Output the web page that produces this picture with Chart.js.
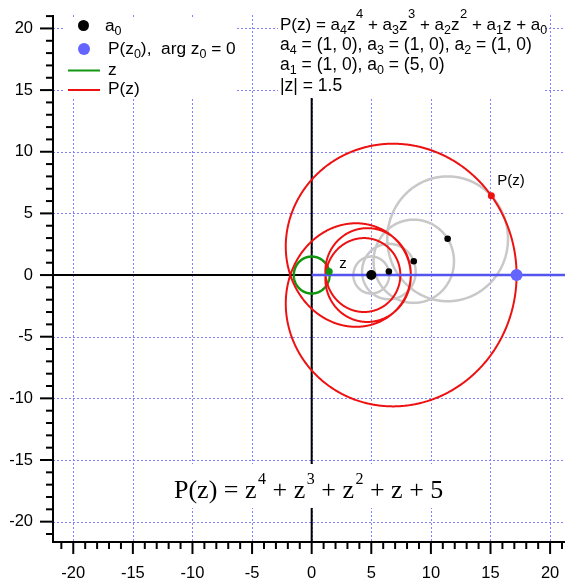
<!DOCTYPE html>
<html><head><meta charset="utf-8">
<script src="https://cdn.jsdelivr.net/npm/chart.js@4/dist/chart.umd.min.js"></script>
<style>html,body{margin:0;padding:0;background:#fff;}#wrap{width:565px;height:583px;}</style>
</head><body><div id="wrap"><canvas id="c" width="565" height="583"></canvas></div>
<script>
// ---- data ----
const coefficients = [[5, 0], [1, 0], [1, 0], [1, 0], [1, 0]]; // a0, a1, a2, a3, a4 as (re, im)
const modulusZ = 1.5;          // |z|
const argZ = 0.19;             // arg of the marked z (rad)
const argZ0 = 0;               // arg z0
const xTickValues = [-20, -15, -10, -5, 0, 5, 10, 15, 20];
const yTickValues = [-20, -15, -10, -5, 0, 5, 10, 15, 20];
const minorTickValues = [-21,-20,-19,-18,-17,-16,-15,-14,-13,-12,-11,-10,-9,-8,-7,-6,-5,-4,-3,-2,-1,0,1,2,3,4,5,6,7,8,9,10,11,12,13,14,15,16,17,18,19,20,21];

// ---- derived geometry ----
function term(k, theta) {
  const m = Math.pow(modulusZ, k), ang = k * theta;
  const zr = m * Math.cos(ang), zi = m * Math.sin(ang);
  const [ar, ai] = coefficients[k];
  return [ar * zr - ai * zi, ar * zi + ai * zr];
}
function partialSums(theta) {
  const out = []; let re = 0, im = 0;
  for (let k = 0; k < coefficients.length; k++) { const [a, b] = term(k, theta); re += a; im += b; out.push({x: re, y: im}); }
  return out;
}
function circlePts(cx, cy, r, n) {
  const p = [];
  for (let i = 0; i <= n; i++) { const t = 2 * Math.PI * i / n; p.push({x: cx + r * Math.cos(t), y: cy + r * Math.sin(t)}); }
  return p;
}
const curvePts = [];
for (let i = 0; i <= 1440; i++) { const s = partialSums(2 * Math.PI * i / 1440); curvePts.push(s[s.length - 1]); }
const sums = partialSums(argZ);
const sums0 = partialSums(argZ0);
const pz = sums[sums.length - 1];
const pz0 = sums0[sums0.length - 1];
const zPoint = {x: modulusZ * Math.cos(argZ), y: modulusZ * Math.sin(argZ)};
const grayCircles = [];
for (let k = 1; k < coefficients.length; k++) {
  const mag = Math.hypot(coefficients[k][0], coefficients[k][1]) * Math.pow(modulusZ, k);
  grayCircles.push(circlePts(sums[k - 1].x, sums[k - 1].y, mag, 240));
}

const SANS = '"Liberation Sans", Arial, Helvetica, sans-serif';
const SERIF = '"Liberation Serif", "Times New Roman", serif';
const RED = '#ee1111', GREEN = '#129612', GRAY = '#c8c8c8', BLUE_LINE = '#5454ee', BLUE_DOT = '#6464ff', GRID = '#8282ff';

function rich(ctx, x, y, parts, family) {
  for (const p of parts) {
    ctx.font = p.s + 'px ' + family;
    const dx = p.dx || 0;
    ctx.fillText(p.t, x + dx, y + (p.dy || 0));
    x += dx + ctx.measureText(p.t).width;
  }
}
const sub = t => ({t, s: 12.5, dy: 4});
const sup = t => ({t, s: 13, dy: -12, dx: 0.5});
const n = t => ({t, s: 17});
const m = t => ({t, s: 17.5});
const lg = t => ({t, s: 17.3});

const decor = {
  id: 'decor',
  beforeDatasetsDraw(chart) {
    const {ctx, chartArea: a, scales: {x, y}} = chart;
    const L = (x1, y1, x2, y2) => { ctx.beginPath(); ctx.moveTo(x1, y1); ctx.lineTo(x2, y2); ctx.stroke(); };
    ctx.save();
    ctx.strokeStyle = GRID; ctx.lineWidth = 1; ctx.setLineDash([2, 2]);
    for (const v of xTickValues) { const p = Math.round(x.getPixelForValue(v)) + 0.5; L(p, a.top, p, a.bottom); }
    for (const v of yTickValues) { const p = Math.round(y.getPixelForValue(v)) + 0.5; L(a.left, p, a.right, p); }
    ctx.setLineDash([]);
    ctx.strokeStyle = '#000'; ctx.lineWidth = 2;
    const x0 = x.getPixelForValue(0), y0 = y.getPixelForValue(0);
    L(x0, a.top, x0, a.bottom); L(a.left, y0, a.right, y0);
    L(a.left, a.top, a.left, a.bottom + 1); L(a.left - 1, a.bottom, a.right, a.bottom);
    for (const v of minorTickValues) {
      const px = x.getPixelForValue(v), major = v % 5 === 0;
      L(px, a.bottom, px, a.bottom + (major ? 12 : 7));
      const py = y.getPixelForValue(v);
      L(a.left, py, a.left - (major ? 13 : 7), py);
    }
    ctx.restore();
  },
  afterDatasetsDraw(chart) {
    const {ctx, scales: {x, y}} = chart;
    ctx.save();
    ctx.fillStyle = '#fff';
    ctx.fillRect(63, 17, 174, 82);
    ctx.fillRect(278, 15, 266, 83);
    ctx.fillRect(150, 464, 310, 44);
    ctx.fillStyle = '#000'; ctx.textBaseline = 'alphabetic'; ctx.textAlign = 'left';
    // legend
    ctx.beginPath(); ctx.arc(83.5, 25.5, 5.5, 0, 2 * Math.PI); ctx.fill();
    ctx.fillStyle = BLUE_DOT; ctx.beginPath(); ctx.arc(84, 49, 6, 0, 2 * Math.PI); ctx.fill();
    ctx.lineWidth = 2;
    ctx.strokeStyle = GREEN; ctx.beginPath(); ctx.moveTo(68, 70.5); ctx.lineTo(100, 70.5); ctx.stroke();
    ctx.strokeStyle = RED; ctx.beginPath(); ctx.moveTo(68, 90); ctx.lineTo(100, 90); ctx.stroke();
    ctx.fillStyle = '#000';
    rich(ctx, 105, 31, [lg('a'), sub('0')], SANS);
    rich(ctx, 108, 54, [lg('P(z'), sub('0'), lg('),  arg z'), sub('0'), lg(' = 0')], SANS);
    rich(ctx, 108, 75, [lg('z')], SANS);
    rich(ctx, 108, 94, [lg('P(z)')], SANS);
    // formula box
    rich(ctx, 280, 30, [n('P(z) = a'), sub('4'), n('z'), sup('4'), n(' + a'), sub('3'), n('z'), sup('3'), n(' + a'), sub('2'), n('z'), sup('2'), n(' + a'), sub('1'), n('z + a'), sub('0')], SANS);
    rich(ctx, 280, 50, [m('a'), sub('4'), m(' = (1, 0), a'), sub('3'), m(' = (1, 0), a'), sub('2'), m(' = (1, 0)')], SANS);
    rich(ctx, 280, 70, [m('a'), sub('1'), m(' = (1, 0), a'), sub('0'), m(' = (5, 0)')], SANS);
    rich(ctx, 280, 91, [m('|z| = 1.5')], SANS);
    // bottom formula
    const F = 26, FS = {s: 16, dy: -13.5, dx: 1.5};
    rich(ctx, 174, 497.5, [{t: 'P(z) = z', s: F}, {t: '4', ...FS}, {t: ' + z', s: F}, {t: '3', ...FS}, {t: ' + z', s: F}, {t: '2', ...FS}, {t: ' + z + 5', s: F}], SERIF);
    // point labels
    ctx.font = '15px ' + SANS;
    ctx.fillText('z', x.getPixelForValue(zPoint.x) + 10, y.getPixelForValue(zPoint.y) - 4);
    ctx.fillText('P(z)', x.getPixelForValue(pz.x) + 6, y.getPixelForValue(pz.y) - 11);
    ctx.restore();
  }
};

const lineDs = (data, color, width, order) => ({data, showLine: true, borderColor: color, borderWidth: width, pointRadius: 0, fill: false, tension: 0.0001, order});
const dotDs = (data, color, r, order) => ({data, showLine: false, pointRadius: r, pointBackgroundColor: color, backgroundColor: color, pointBorderWidth: 0, borderWidth: 0, order});

const datasets = [
  dotDs([pz0], BLUE_DOT, 6, 0),
  dotDs([pz], RED, 3.5, 1),
  dotDs([zPoint], GREEN, 3.5, 1),
  dotDs(sums.slice(1, sums.length - 1), '#000', 3.3, 1),
  dotDs([sums[0]], '#000', 5, 1),
  lineDs([{x: 0, y: 0}, {x: 30, y: 0}], BLUE_LINE, 2.5, 3),
  lineDs(curvePts, RED, 2, 5),
  lineDs(circlePts(0, 0, modulusZ, 240), GREEN, 2.5, 6),
  ...grayCircles.map(c => lineDs(c, GRAY, 2.5, 7))
];

new Chart(document.getElementById('c'), {
  type: 'scatter',
  data: {datasets},
  options: {
    responsive: false, animation: false, devicePixelRatio: 1,
    layout: {autoPadding: false, padding: {top: 15, left: 0, right: 0, bottom: 0}},
    plugins: {legend: {display: false}, tooltip: {enabled: false}},
    scales: {
      x: {type: 'linear', position: 'bottom', min: -21.7, max: 21.25,
        afterFit(s) { s.height = 41; s.paddingLeft = 0; s.paddingRight = 0; },
        afterBuildTicks(s) { s.ticks = xTickValues.map(v => ({value: v})); },
        grid: {display: false, drawTicks: false}, border: {display: false},
        ticks: {font: {family: SANS, size: 16.5}, color: '#000', padding: 22, maxRotation: 0, autoSkip: false, callback: v => String(v)}},
      y: {type: 'linear', position: 'left', min: -21.65, max: 21.09,
        afterFit(s) { s.width = 53; s.paddingTop = 0; s.paddingBottom = 0; },
        afterBuildTicks(s) { s.ticks = yTickValues.map(v => ({value: v})); },
        grid: {display: false, drawTicks: false}, border: {display: false},
        ticks: {font: {family: SANS, size: 16.5}, color: '#000', padding: 20, autoSkip: false, callback: v => String(v)}}
    }
  },
  plugins: [decor]
});
</script></body></html>
